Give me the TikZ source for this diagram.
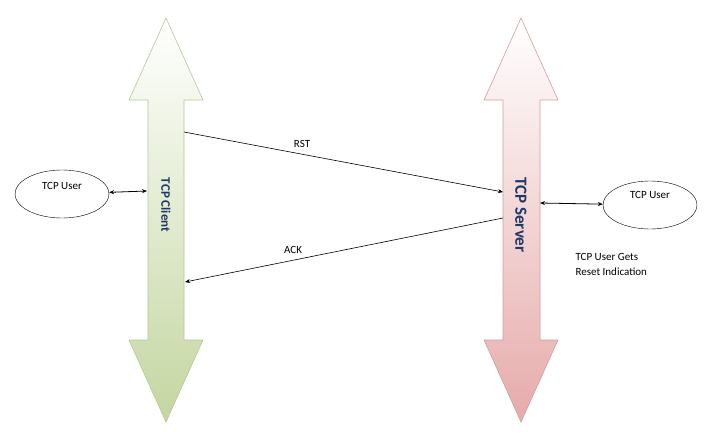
\documentclass[tikz,border=0pt]{standalone}
\usepackage{fontspec}
\setmainfont{Carlito}
\usetikzlibrary{arrows.meta,shapes.geometric}
\definecolor{cg}{RGB}{196,214,160}
\definecolor{cgb}{RGB}{150,175,110}
\definecolor{cr}{RGB}{230,170,170}
\definecolor{crb}{RGB}{190,120,120}
\definecolor{lbl}{RGB}{31,56,100}
\begin{document}
\begin{tikzpicture}[x=1pt,y=-1pt,
  lane/.style={line width=0.6pt},
  msg/.style={-{Stealth[length=5pt,width=4pt]},line width=0.6pt},
  bi/.style={{Stealth[length=5pt,width=4pt]}-{Stealth[length=5pt,width=4pt]},line width=0.8pt},
  user/.style={draw,ellipse,minimum width=94pt,minimum height=48pt},
  txt/.style={font=\fontsize{11}{13}\selectfont}]
\useasboundingbox (0,0) rectangle (720,442);
\path[top color=white,bottom color=cg,draw=cgb!70,lane]
 (166,18) -- (203,100) -- (184,100) -- (184,340) -- (203,340) -- (166,422)
 -- (129,340) -- (148,340) -- (148,100) -- (129,100) -- cycle;
\path[top color=white,bottom color=cr,draw=crb!70,lane]
 (521,18) -- (558,100) -- (540,100) -- (540,340) -- (558,340) -- (521,422)
 -- (484,340) -- (503,340) -- (503,100) -- (484,100) -- cycle;
\node[rotate=-90,text=lbl,font=\fontsize{13}{15}\selectfont\bfseries] (cl) at (166,205) {TCP Client};
\node[rotate=-90,text=lbl,font=\fontsize{17}{19}\selectfont\bfseries] (sv) at (521,215) {TCP Server};
\coordinate (c1) at (184,132); \coordinate (s1) at (503,192);
\coordinate (s2) at (503,218); \coordinate (c2) at (185,282);
\draw[msg] (c1) -- node[pos=0.37,above=3pt,txt]{RST} (s1);
\draw[msg] (s2) -- node[pos=0.66,above=3pt,txt]{ACK} (c2);
\node[user] (u1) at (62,194) {};
\node[txt] at (62,186) {TCP User};
\node[user] (u2) at (650,205) {};
\node[txt] at (650,195) {TCP User};
\coordinate (cl1) at (147,191); \coordinate (sv1) at (540,203);
\draw[bi] (u1) -- (cl1);
\draw[bi] (sv1) -- (u2);
\node[txt,align=left,anchor=north west] (note) at (572,250) {TCP User Gets\\[2pt]Reset Indication};
\end{tikzpicture}
\end{document}
